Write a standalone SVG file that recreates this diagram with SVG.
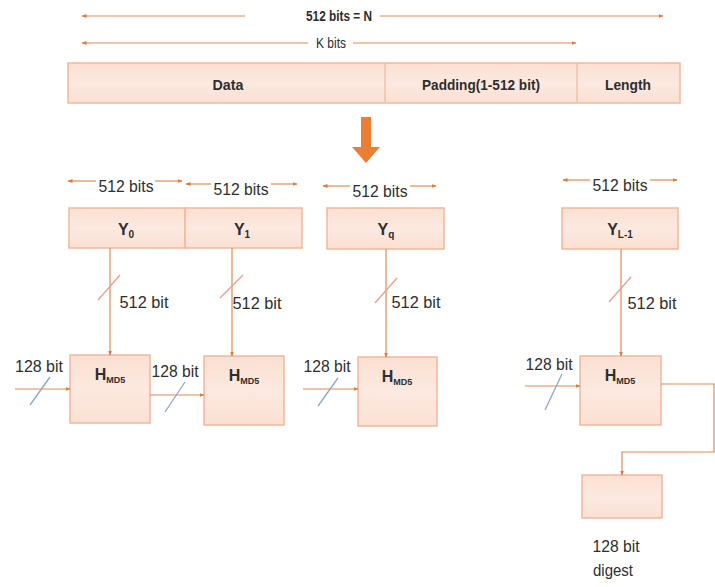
<svg xmlns="http://www.w3.org/2000/svg" width="715" height="587" viewBox="0 0 715 587">
<defs>
<marker id="ah" viewBox="0 0 10 10" refX="9" refY="5" markerWidth="5" markerHeight="5" orient="auto-start-reverse" markerUnits="userSpaceOnUse">
<path d="M0,1 L10,5 L0,9 z" fill="#E07B3C"/>
</marker>
<linearGradient id="gBox" x1="0" y1="0" x2="0" y2="1">
<stop offset="0" stop-color="#FBE0D2"/>
<stop offset="0.5" stop-color="#FCE9E0"/>
<stop offset="1" stop-color="#FBE0D2"/>
</linearGradient>
</defs>
<style>
.t{font-family:"Liberation Sans",Arial,sans-serif;fill:#2e2e2e}
.b{font-weight:bold}
.box{fill:url(#gBox);stroke:#F2B89A;stroke-width:1.5}
.ln{fill:none;stroke:#E08A55;stroke-width:1.2}
.ar{fill:none;stroke:#E08A55;stroke-width:1.2;marker-end:url(#ah)}
.s5{stroke:#E8A08A;stroke-width:1.3}
.s1{stroke:#8FA6C6;stroke-width:1.3}
</style>
<rect width="715" height="587" fill="#ffffff"/>

<g id="size-labels">
<path class="ar" d="M245,16 H82"/>
<path class="ar" d="M380,16 H663"/>
<text class="t b" x="339" y="21" font-size="15" text-anchor="middle" textLength="66" lengthAdjust="spacingAndGlyphs">512 bits = N</text>
<path class="ar" d="M308,43 H82"/>
<path class="ar" d="M353,43 H576"/>
<text class="t" x="331" y="48" font-size="14" text-anchor="middle" textLength="30" lengthAdjust="spacingAndGlyphs">K bits</text>
</g>

<g id="message">
<rect class="box" x="68" y="63" width="612" height="40"/>
<line x1="385" y1="63" x2="385" y2="103" stroke="#F2B89A" stroke-width="1.2"/>
<line x1="577" y1="63" x2="577" y2="103" stroke="#F2B89A" stroke-width="1.2"/>
<text class="t b" x="228" y="90" font-size="15" text-anchor="middle" textLength="31" lengthAdjust="spacingAndGlyphs">Data</text>
<text class="t b" x="481" y="90" font-size="15" text-anchor="middle" textLength="118" lengthAdjust="spacingAndGlyphs">Padding(1-512 bit)</text>
<text class="t b" x="628" y="90" font-size="15" text-anchor="middle" textLength="46" lengthAdjust="spacingAndGlyphs">Length</text>
</g>

<g id="big-arrow">
<path d="M361,117 H371 V147 H380 L366,163 L352,147 H361 z" fill="#ED7D31"/>
</g>

<g id="blocks">
<g id="y0">
<path class="ar" d="M96,181 H68"/>
<path class="ar" d="M155,181 H182"/>
<text class="t" x="126" y="192" font-size="17" text-anchor="middle" textLength="55" lengthAdjust="spacingAndGlyphs">512 bits</text>
<rect class="box" x="69" y="208" width="116" height="40"/>
<text class="t b" x="126" y="235" font-size="16" text-anchor="middle">Y<tspan font-size="10" dy="3">0</tspan></text>
</g>
<g id="y1">
<path class="ar" d="M211,184 H186"/>
<path class="ar" d="M271,184 H297"/>
<text class="t" x="241" y="195" font-size="17" text-anchor="middle" textLength="55" lengthAdjust="spacingAndGlyphs">512 bits</text>
<rect class="box" x="185" y="208" width="117" height="40"/>
<text class="t b" x="242" y="235" font-size="16" text-anchor="middle">Y<tspan font-size="10" dy="3">1</tspan></text>
</g>
<g id="yq">
<path class="ar" d="M350,186 H323"/>
<path class="ar" d="M410,186 H436"/>
<text class="t" x="380" y="197" font-size="17" text-anchor="middle" textLength="55" lengthAdjust="spacingAndGlyphs">512 bits</text>
<rect class="box" x="327" y="208" width="117" height="41"/>
<text class="t b" x="386" y="235" font-size="16" text-anchor="middle">Y<tspan font-size="10" dy="3">q</tspan></text>
</g>
<g id="yl1">
<path class="ar" d="M590,180 H563"/>
<path class="ar" d="M650,180 H677"/>
<text class="t" x="620" y="191" font-size="17" text-anchor="middle" textLength="55" lengthAdjust="spacingAndGlyphs">512 bits</text>
<rect class="box" x="562" y="208" width="116" height="41"/>
<text class="t b" x="620" y="235" font-size="16" text-anchor="middle">Y<tspan font-size="10" dy="3">L-1</tspan></text>
</g>
</g>

<g id="hash-units">
<g id="h1">
<rect class="box" x="70" y="355" width="80" height="68"/>
<text class="t b" x="110" y="380" font-size="16" text-anchor="middle">H<tspan font-size="9" dy="3">MD5</tspan></text>
</g>
<g id="h2">
<rect class="box" x="204" y="356" width="80" height="69"/>
<text class="t b" x="244" y="381" font-size="16" text-anchor="middle">H<tspan font-size="9" dy="3">MD5</tspan></text>
</g>
<g id="h3">
<rect class="box" x="358" y="357" width="79" height="69"/>
<text class="t b" x="397" y="382" font-size="16" text-anchor="middle">H<tspan font-size="9" dy="3">MD5</tspan></text>
</g>
<g id="h4">
<rect class="box" x="580" y="356" width="81" height="69"/>
<text class="t b" x="620" y="381" font-size="16" text-anchor="middle">H<tspan font-size="9" dy="3">MD5</tspan></text>
</g>
<g id="digest">
<rect class="box" x="582" y="475" width="80" height="43"/>
</g>
</g>

<g id="connectors">
<path class="ar" d="M110,248 V355"/>
<path class="ar" d="M232,248 V356"/>
<path class="ar" d="M386,249 V357"/>
<path class="ar" d="M621,249 V356"/>
<path class="ar" d="M15,389 H70"/>
<path class="ar" d="M150,395 H204"/>
<path class="ar" d="M303,389 H358"/>
<path class="ar" d="M525,386 H580"/>
<path class="ar" d="M661,384 H714 V452 H622 V475"/>
</g>

<g id="slashes">
<line class="s5" x1="98" y1="300" x2="120" y2="275"/>
<line class="s5" x1="220" y1="298" x2="243" y2="275"/>
<line class="s5" x1="375" y1="303" x2="397" y2="278"/>
<line class="s5" x1="609" y1="302" x2="631" y2="277"/>
<line class="s1" x1="30" y1="405" x2="50" y2="377"/>
<line class="s1" x1="165" y1="412" x2="185" y2="382"/>
<line class="s1" x1="318" y1="406" x2="338" y2="378"/>
<line class="s1" x1="545" y1="410" x2="562" y2="374"/>
</g>

<g id="bit-labels">
<text class="t" x="144" y="308" font-size="17" text-anchor="middle" textLength="49" lengthAdjust="spacingAndGlyphs">512 bit</text>
<text class="t" x="257" y="309" font-size="17" text-anchor="middle" textLength="49" lengthAdjust="spacingAndGlyphs">512 bit</text>
<text class="t" x="416" y="308" font-size="17" text-anchor="middle" textLength="49" lengthAdjust="spacingAndGlyphs">512 bit</text>
<text class="t" x="652" y="309" font-size="17" text-anchor="middle" textLength="49" lengthAdjust="spacingAndGlyphs">512 bit</text>
<text class="t" x="39" y="372" font-size="17" text-anchor="middle" textLength="48" lengthAdjust="spacingAndGlyphs">128 bit</text>
<text class="t" x="175" y="377" font-size="17" text-anchor="middle" textLength="47" lengthAdjust="spacingAndGlyphs">128 bit</text>
<text class="t" x="327" y="372" font-size="17" text-anchor="middle" textLength="47" lengthAdjust="spacingAndGlyphs">128 bit</text>
<text class="t" x="549" y="370" font-size="17" text-anchor="middle" textLength="47" lengthAdjust="spacingAndGlyphs">128 bit</text>
<text class="t" x="616" y="552" font-size="16" text-anchor="middle" textLength="47" lengthAdjust="spacingAndGlyphs">128 bit</text>
<text class="t" x="613" y="576" font-size="16" text-anchor="middle" textLength="40" lengthAdjust="spacingAndGlyphs">digest</text>
</g>
</svg>
